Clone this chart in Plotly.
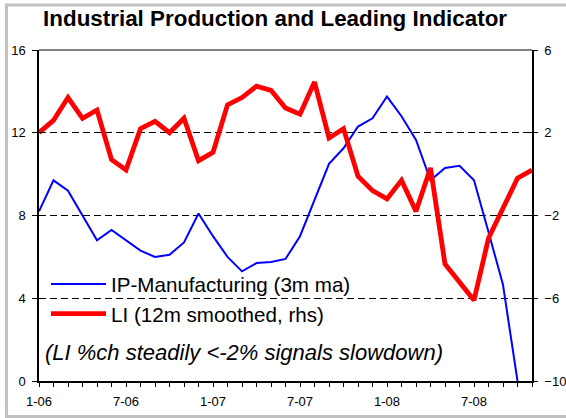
import plotly.graph_objects as go

# Monthly categories, Jan-2006 .. Nov-2008
months = [f"{m}-{y:02d}" for y in (6, 7, 8) for m in range(1, 13)][:35]

# IP manufacturing, 3m moving average (left axis)
ip_mfg = [8.2, 9.7, 9.2, 8.0, 6.8, 7.3, 6.8, 6.3, 6.0, 6.1, 6.7, 8.1,
          7.0, 6.0, 5.3, 5.7, 5.75, 5.9, 7.0, 8.75, 10.5, 11.25, 12.3, 12.7,
          13.75, 12.8, 11.65, 9.7, 10.3, 10.4, 9.7, 7.2, 4.65, 0.0]

# Leading indicator, 12m smoothed % change (right axis)
li_smoothed = [2.0, 2.6, 3.7, 2.7, 3.1, 0.7, 0.2, 2.2, 2.55, 2.0, 2.7, 0.65,
               1.05, 3.35, 3.7, 4.25, 4.05, 3.2, 2.9, 4.45, 1.75, 2.2, -0.1, -0.8,
               -1.2, -0.3, -1.8, 0.3, -4.35, -5.2, -6.1, -3.1, -1.7, -0.2, 0.2]

left_ticks = [0, 4, 8, 12, 16]
right_ticks = [-10, -6, -2, 2, 6]
x_labels = [m if i % 6 == 0 else "" for i, m in enumerate(months)]

FONT = "Liberation Sans, Arial, sans-serif"

fig = go.Figure()
fig.add_trace(go.Scatter(
    x=months[:len(ip_mfg)], y=ip_mfg, name="IP-Manufacturing (3m ma)",
    mode="lines", line=dict(color="#0000FF", width=2), yaxis="y"))
fig.add_trace(go.Scatter(
    x=months, y=li_smoothed, name="LI (12m smoothed, rhs)",
    mode="lines", line=dict(color="#FF0000", width=4.8), yaxis="y2"))
# helper traces so the inner tick axes get drawn
fig.add_trace(go.Scatter(x=months[:len(ip_mfg)], y=ip_mfg, yaxis="y3", mode="lines",
                         line=dict(width=0), showlegend=False, hoverinfo="skip"))
fig.add_trace(go.Scatter(x=months, y=li_smoothed, yaxis="y4", mode="lines",
                         line=dict(width=0), showlegend=False, hoverinfo="skip"))

axis_font = dict(family=FONT, size=13, color="black")

fig.update_layout(
    width=566, height=418,
    margin=dict(l=39, r=34, t=50, b=37, autoexpand=False),
    paper_bgcolor="white", plot_bgcolor="white",
    title=dict(text="<b>Industrial Production and Leading Indicator</b>",
               font=dict(family=FONT, size=22.4, color="black"),
               x=0.486, xref="container", xanchor="center",
               y=0.957, yref="container", yanchor="middle"),
    showlegend=True,
    legend=dict(x=0.0142, y=0.3535, xanchor="left", yanchor="top",
                bgcolor="rgba(0,0,0,0)", borderwidth=0,
                font=dict(family=FONT, size=20.6, color="black"),
                itemwidth=55, tracegroupgap=0),
    xaxis=dict(type="category", range=[0, len(months) - 1], automargin=False,
               tickmode="array", tickvals=months, ticktext=x_labels,
               ticks="outside", ticklen=4, tickcolor="black", tickwidth=1,
               ticklabelstandoff=4,
               showline=True, linecolor="black", linewidth=1.5,
               showgrid=False, zeroline=False, tickangle=0,
               tickfont=axis_font),
    yaxis=dict(range=[0, 16], tickvals=left_ticks, ticks="outside", ticklen=5,
               automargin=False, ticklabelstandoff=4,
               tickcolor="black", showline=True, linecolor="black", linewidth=1.5,
               showgrid=True, gridcolor="black", gridwidth=1, griddash="7px,4px",
               zeroline=False, tickfont=axis_font),
    yaxis2=dict(range=[-10, 6], tickvals=right_ticks, ticks="outside", ticklen=4,
                automargin=False, ticklabelstandoff=4,
                tickcolor="black", showline=True, linecolor="black", linewidth=1.5,
                overlaying="y", side="right", showgrid=False, zeroline=False,
                tickfont=axis_font),
    yaxis3=dict(range=[0, 16], tickvals=left_ticks, ticks="inside", ticklen=5,
                automargin=False,
                tickcolor="black", overlaying="y", side="left",
                showticklabels=False, showgrid=False, zeroline=False, showline=False),
    yaxis4=dict(range=[-10, 6], tickvals=right_ticks, ticks="inside", ticklen=4,
                automargin=False,
                tickcolor="black", overlaying="y", side="right",
                showticklabels=False, showgrid=False, zeroline=False, showline=False),
    annotations=[dict(
        text="<i>(LI %ch steadily <-2% signals slowdown)</i>",
        xref="paper", yref="paper", x=0.008, y=0.085,
        xanchor="left", yanchor="middle", showarrow=False,
        font=dict(family=FONT, size=22, color="black"))],
    shapes=[
        # white legend panel: hides the gridline behind the legend, sits under the lines
        dict(type="rect", xref="paper", yref="paper",
             x0=0.002, x1=0.657, y0=0.155, y1=0.32,
             line=dict(width=0), fillcolor="white", layer="between"),
        # solid grey line along the top of the plot area
        dict(type="line", xref="paper", yref="paper", x0=0, x1=1, y0=1, y1=1,
             line=dict(color="#808080", width=2)),
        # grey chart frame
        dict(type="rect", xref="paper", yref="paper",
             x0=-0.066, x1=1.2, y0=-0.107, y1=1.136,
             line=dict(color="#C0C0C0", width=3), layer="below"),
    ],
)

fig.write_html("out.html")
